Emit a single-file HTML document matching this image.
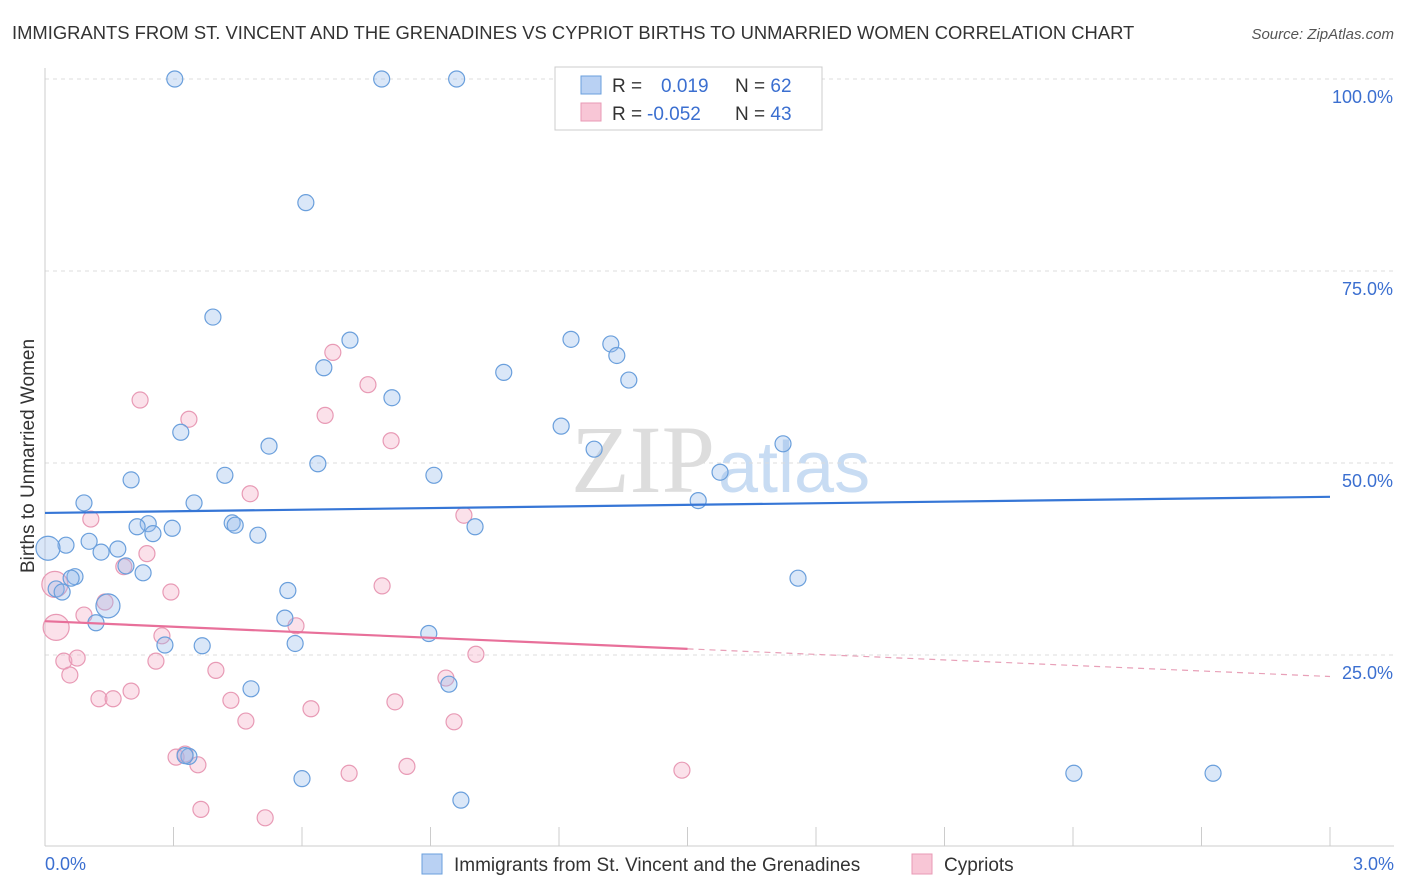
<!DOCTYPE html>
<html><head><meta charset="utf-8"><style>
body{margin:0;background:#fff;font-family:"Liberation Sans",sans-serif}
svg{display:block}
</style></head><body>
<svg id="chart" width="1406" height="892">
<text x="12" y="39" font-size="18.4" fill="#333">IMMIGRANTS FROM ST. VINCENT AND THE GRENADINES VS CYPRIOT BIRTHS TO UNMARRIED WOMEN CORRELATION CHART</text>
<text x="1394" y="39" font-size="15" fill="#555" font-style="italic" text-anchor="end">Source: ZipAtlas.com</text>
<text x="34" y="456" font-size="19" fill="#333" text-anchor="middle" transform="rotate(-90 34 456)">Births to Unmarried Women</text>
<text x="715" y="492" font-size="96" fill="#ddd" text-anchor="end" font-family="Liberation Serif">ZIP</text>
<text x="718" y="492" font-size="72" fill="#c8dcf3">atlas</text>
<g id="grid"></g><g id="pts"></g><g id="trend"></g>
<g>
<rect x="555" y="67" width="267" height="63" fill="#fff" stroke="#ccc"/>
<rect x="581" y="76" width="20" height="18" fill="#b9d1f3" stroke="#6a9fdc"/>
<rect x="581" y="103" width="20" height="18" fill="#f8c6d6" stroke="#e89ab5"/>
<text x="612" y="92" font-size="19" fill="#333">R = <tspan fill="#3b6fd0" x="661">0.019</tspan><tspan x="735" fill="#333">N = </tspan><tspan fill="#3b6fd0">62</tspan></text>
<text x="612" y="120" font-size="19" fill="#333">R = <tspan fill="#3b6fd0" x="647">-0.052</tspan><tspan x="735" fill="#333">N = </tspan><tspan fill="#3b6fd0">43</tspan></text>
</g>
<g>
<rect x="422" y="854" width="20" height="20" fill="#b9d1f3" stroke="#6a9fdc"/>
<text x="454" y="871" font-size="19" fill="#333">Immigrants from St. Vincent and the Grenadines</text>
<rect x="912" y="854" width="20" height="20" fill="#f8c6d6" stroke="#e89ab5"/>
<text x="944" y="871" font-size="19" fill="#333">Cypriots</text>
</g>
</svg>
<script>
const xTicks=[0,0.3,0.6,0.9,1.2,1.5,1.8,2.1,2.4,2.7,3.0];
const yTicks=[25,50,75,100];
const yTickLabels=["25.0%","50.0%","75.0%","100.0%"];
const blueX=[0.303,0.786,0.961,0.609,0.392,0.712,0.651,1.071,1.228,1.321,1.335,1.363,0.810,0.317,1.205,1.282,0.523,0.637,0.420,0.908,1.723,1.576,0.201,0.091,0.348,1.525,0.241,0.215,0.297,0.437,0.444,0.252,0.497,1.004,0.049,0.103,0.170,0.131,0.189,0.229,0.007,0.070,0.061,1.758,0.026,0.040,0.147,0.567,0.119,0.560,0.896,0.280,0.367,0.584,0.481,0.943,0.336,0.327,0.600,0.971,2.402,2.727];
const blueY=[100,100,100,83.9,69.0,66.0,62.4,61.8,66.1,65.5,64.0,60.8,58.5,54.0,54.8,51.8,52.2,49.9,48.4,48.4,52.5,48.8,47.8,44.8,44.8,45.1,42.1,41.7,41.5,42.2,41.9,40.8,40.6,41.7,39.3,39.8,38.8,38.4,36.6,35.7,38.9,35.2,35.0,35.0,33.6,33.2,31.4,33.4,29.2,29.8,27.8,26.3,26.2,26.5,20.6,21.2,11.8,11.9,8.9,6.1,9.6,9.6];
const pinkX=[0.672,0.754,0.654,0.222,0.336,0.808,0.479,0.107,0.978,0.238,0.184,0.787,0.294,0.023,0.091,0.140,0.026,0.586,0.273,0.044,0.075,0.058,0.259,1.006,0.399,0.936,0.201,0.126,0.159,0.434,0.817,0.621,0.469,0.955,0.306,0.327,0.357,0.710,0.845,1.487,0.364,0.514];
const pinkY=[64.4,60.2,56.2,58.2,55.7,52.9,46.0,42.7,43.2,38.2,36.5,34.0,33.2,34.2,30.2,31.9,28.6,28.8,27.5,24.2,24.6,22.4,24.2,25.1,23.0,22.0,20.3,19.3,19.3,19.1,18.9,18.0,16.4,16.3,11.7,12.1,10.7,9.6,10.5,10.0,4.9,3.8];
const X=v=>45+v/3*1285, Y=v=>847-v/100*768;
const NS="http://www.w3.org/2000/svg";
function mk(t,a,p){const e=document.createElementNS(NS,t);for(const k in a)e.setAttribute(k,a[k]);p.appendChild(e);return e;}
const grid=document.getElementById('grid');
yTicks.forEach((t,i)=>{
 const l=mk('line',{x1:45,x2:1394,y1:Y(t),y2:Y(t),stroke:'#ddd','stroke-dasharray':'4 4'},grid);
 
 
 const tx=mk('text',{x:1393,y:Y(t)+24,'font-size':18,fill:'#3b6fd0','text-anchor':'end'},grid);
 tx.textContent=yTickLabels[i];
 
 
});
const ax=mk('line',{x1:45,x2:1394,y1:846,y2:846,stroke:'#ccc'},grid);


const ay=mk('line',{x1:45,x2:45,y1:68,y2:846,stroke:'#ccc'},grid);


xTicks.forEach(t=>{
 const l=mk('line',{x1:X(t),x2:X(t),y1:827,y2:846,stroke:'#ccc'},grid);
 
 
});
[[0,'0.0%','start',45],[3,'3.0%','end',1394]].forEach(d=>{
 const tx=mk('text',{x:d[3],y:870,'font-size':18,fill:'#3b6fd0','text-anchor':d[2]},grid);
 tx.textContent=d[1];
 
 
});
const pts=document.getElementById('pts');
function pt(x,y,fill,stroke,name,r){
 const c=mk('circle',{cx:X(x),cy:Y(y),r:r,fill:fill,stroke:stroke,'stroke-width':1.2},pts);
 
 
}
pinkX.forEach((x,i)=>pt(x,pinkY[i],'rgba(244,170,196,0.35)','#e89ab5','cypriot-point',x<0.03?13:8));
blueX.forEach((x,i)=>pt(x,blueY[i],'rgba(150,186,235,0.35)','#6a9fdc','svg-immigrant-point',(x<0.01||(x>0.14&&x<0.15))?12:8));
const tr=document.getElementById('trend');
const bt=mk('line',{x1:X(0),y1:Y(43.5),x2:X(3),y2:Y(45.6),stroke:'#3676d6','stroke-width':2.2},tr);


const pt1=mk('line',{x1:X(0),y1:Y(29.4),x2:X(1.5),y2:Y(25.8),stroke:'#e8709a','stroke-width':2.2},tr);


const pt2=mk('line',{x1:X(1.5),y1:Y(25.8),x2:X(3),y2:Y(22.2),stroke:'#e8a0b8','stroke-width':1.2,'stroke-dasharray':'6 5'},tr);


</script>
</body></html>
